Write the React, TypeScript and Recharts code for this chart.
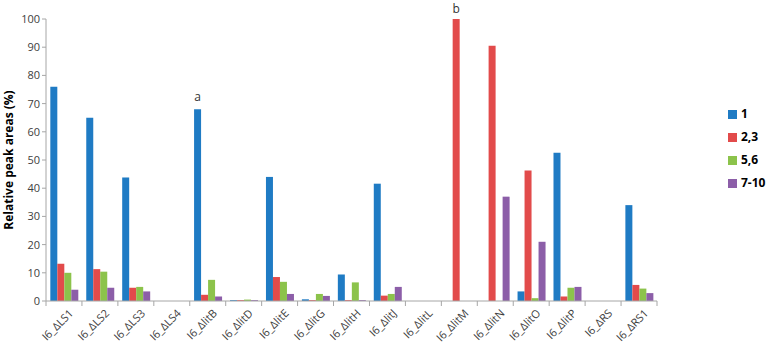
import React from "react";
import { BarChart, Bar, XAxis, YAxis, Legend, LabelList } from "recharts";

const categories = [
  "I6_ΔLS1", "I6_ΔLS2", "I6_ΔLS3", "I6_ΔLS4", "I6_ΔlitB", "I6_ΔlitD",
  "I6_ΔlitE", "I6_ΔlitG", "I6_ΔlitH", "I6_ΔlitJ", "I6_ΔlitL", "I6_ΔlitM",
  "I6_ΔlitN", "I6_ΔlitO", "I6_ΔlitP", "I6_ΔRS", "I6_ΔRS1",
];
const s1 = [76, 65, 43.8, 0, 68, 0.3, 44, 0.6, 9.4, 41.6, 0, 0, 0, 3.4, 52.6, 0, 34];
const s23 = [13.2, 11.3, 4.7, 0, 2.2, 0.3, 8.5, 0.3, 0.3, 1.9, 0, 100, 90.5, 46.3, 1.6, 0, 5.7];
const s56 = [10, 10.4, 5, 0, 7.5, 0.5, 6.8, 2.5, 6.6, 2.5, 0, 0, 0, 1, 4.7, 0, 4.4];
const s710 = [4, 4.7, 3.4, 0, 1.6, 0.3, 2.5, 1.8, 0.3, 5, 0, 0, 37, 21, 5, 0, 2.8];
const notes1 = ["", "", "", "", "a", "", "", "", "", "", "", "", "", "", "", "", ""];
const notes23 = ["", "", "", "", "", "", "", "", "", "", "", "b", "", "", "", "", ""];
const yTicks = [0, 10, 20, 30, 40, 50, 60, 70, 80, 90, 100];

const data = categories.map((name, i) => ({
  name,
  "1": s1[i],
  "2,3": s23[i],
  "5,6": s56[i],
  "7-10": s710[i],
  n1: notes1[i],
  n23: notes23[i],
}));

const font = "'Open Sans', sans-serif";
const axisGray = "#a6a6a6";

// label plus the Excel-style tick marks sitting between categories
const XTick = (props: any) => {
  const { x, y, payload, index } = props;
  const half = payload && typeof payload.offset === "number" ? payload.offset : 0;
  const last = index === categories.length - 1;
  return (
    <g>
      {half > 0 && <line x1={x - half} x2={x - half} y1={y - 8} y2={y - 3} stroke={axisGray} />}
      {half > 0 && last && <line x1={x + half} x2={x + half} y1={y - 8} y2={y - 3} stroke={axisGray} />}
      <text
        x={x + 10}
        y={y + 5}
        transform={`rotate(-45 ${x + 10} ${y + 5})`}
        textAnchor="end"
        fontSize={11}
        fontFamily={font}
        fill="#404040"
      >
        {payload.value}
      </text>
    </g>
  );
};

const App = () => {
  return (
    <div style={{ position: "absolute", left: 0, top: 0, background: "#fff" }}>
      <BarChart
        width={768}
        height={354}
        data={data}
        margin={{ top: 19, right: 51, bottom: 0, left: 0 }}
        barCategoryGap="12%"
        barGap={0}
      >
        <XAxis
          dataKey="name"
          interval={0}
          tickLine={false}
          axisLine={{ stroke: axisGray }}
          tick={<XTick />}
          height={53}
        />
        <YAxis
          domain={[0, 100]}
          ticks={yTicks}
          width={46}
          tickSize={4}
          tickLine={{ stroke: axisGray }}
          axisLine={{ stroke: axisGray }}
          tick={{ fontSize: 11, fontFamily: font, fill: "#404040" }}
          label={{
            value: "Relative peak areas (%)",
            angle: -90,
            position: "insideLeft",
            dx: 4,
            style: { fontSize: 12, fontWeight: "bold", fontFamily: font, fill: "#000", textAnchor: "middle" },
          }}
        />
        <Legend
          layout="vertical"
          align="right"
          verticalAlign="middle"
          iconType="square"
          iconSize={9}
          wrapperStyle={{ left: 728, top: 102, width: 60, fontFamily: font, fontWeight: "bold", fontSize: 12, lineHeight: "23px", whiteSpace: "nowrap" }}
          formatter={(v: string) => <span style={{ color: "#000" }}>{v}</span>}
        />
        <Bar dataKey="1" fill="#1f7bc4" isAnimationActive={false}>
          <LabelList dataKey="n1" position="top" offset={8} style={{ fontSize: 12, fontFamily: font, fill: "#333" }} />
        </Bar>
        <Bar dataKey="2,3" fill="#e24b4b" isAnimationActive={false}>
          <LabelList dataKey="n23" position="top" offset={6} style={{ fontSize: 12, fontFamily: font, fill: "#333" }} />
        </Bar>
        <Bar dataKey="5,6" fill="#8cc34b" isAnimationActive={false} />
        <Bar dataKey="7-10" fill="#8c5ea8" isAnimationActive={false} />
      </BarChart>
    </div>
  );
};

export default App;
